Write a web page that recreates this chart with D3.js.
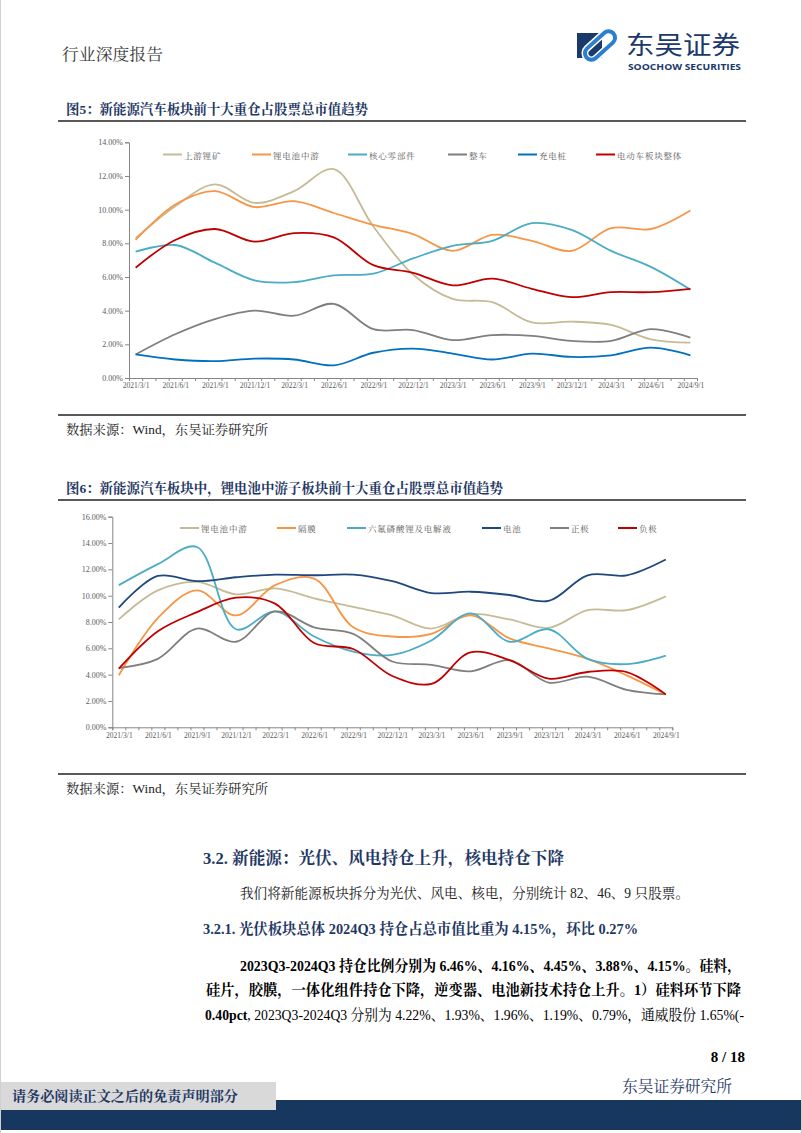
<!DOCTYPE html>
<html><head><meta charset="utf-8">
<script src="https://cdn.jsdelivr.net/npm/d3@7"></script>
<style>html,body{margin:0;padding:0;background:#fff;}svg{display:block;}</style>
</head><body>
<script>
// ---------- DATA ----------
const dateLabels = ["2021/3/1","2021/6/1","2021/9/1","2021/12/1","2022/3/1","2022/6/1","2022/9/1","2022/12/1","2023/3/1","2023/6/1","2023/9/1","2023/12/1","2024/3/1","2024/6/1","2024/9/1"];
const monthIndex = [0,3,6,9,12,15,18,21,24,27,30,33,36,39,42];

// Figure 5
const fig5Names = ["上游锂矿","锂电池中游","核心零部件","整车","充电桩","电动车板块整体"];
const upstreamLithium = [8.3,10.2,11.5,10.4,11.1,12.4,9.0,6.15,4.7,4.5,3.3,3.35,3.15,2.3,2.1];
const batteryMidstream = [8.2,10.3,11.1,10.15,10.5,9.8,9.1,8.55,7.55,8.5,8.15,7.55,8.9,8.85,9.95];
const coreParts = [7.5,7.9,6.85,5.8,5.7,6.1,6.2,7.1,7.85,8.15,9.2,8.8,7.55,6.6,5.25];
const vehicles = [1.4,2.6,3.5,4.0,3.7,4.4,2.9,2.85,2.25,2.55,2.5,2.2,2.2,2.9,2.4];
const chargingPiles = [1.4,1.1,1.0,1.15,1.1,0.75,1.5,1.75,1.45,1.1,1.45,1.25,1.35,1.8,1.35];
const evSectorTotal = [6.55,8.2,8.85,8.1,8.6,8.35,6.7,6.25,5.5,5.9,5.3,4.8,5.1,5.1,5.3];

// Figure 6
const fig6Names = ["锂电池中游","隔膜","六氟磷酸锂及电解液","电池","正极","负极"];
const batteryMid2 = [8.2,10.4,11.05,10.1,10.55,9.8,9.15,8.5,7.5,8.6,8.2,7.55,8.9,8.9,9.95];
const separator = [3.95,8.3,10.4,8.5,10.8,11.3,7.6,6.9,7.1,8.5,6.75,6.0,5.2,3.95,2.5];
const electrolyte = [10.8,12.4,13.7,7.45,8.8,6.9,5.75,5.5,6.6,8.65,6.5,7.45,5.2,4.8,5.45];
const batteries = [9.1,11.5,11.1,11.4,11.6,11.55,11.6,11.1,10.2,10.3,10.05,9.6,11.55,11.55,12.75];
const cathode = [4.5,5.2,7.5,6.5,8.8,7.6,7.1,5.0,4.75,4.25,5.1,3.4,3.85,2.85,2.5];
const anode = [4.45,7.3,8.75,9.85,9.4,6.4,5.95,3.9,3.3,5.7,5.1,3.7,4.2,4.2,2.5];

const fig5Ticks = [0,2,4,6,8,10,12,14];
const fig6Ticks = [0,2,4,6,8,10,12,14,16];

// ---------- STYLE ----------
const SERIF = "'Liberation Serif','Noto Serif CJK SC','Noto Sans CJK SC',serif";
const CJK = "'Noto Serif CJK SC','Noto Sans CJK SC',sans-serif";
const SANS = "'Noto Sans CJK SC','Noto Sans',sans-serif";
const NAVY = "#1f3864";

const svg = d3.select("body").append("svg").attr("width",802).attr("height",1133);

function txt(x,y,s,o={}){
  const t = svg.append("text").attr("x",x).attr("y",y).text(s)
    .attr("font-family",o.family||SERIF).attr("font-size",o.size||14)
    .attr("font-weight",o.weight||"normal").attr("fill",o.fill||"#000")
    .attr("text-anchor",o.anchor||"start").attr("dominant-baseline","central");
  if(o.len){t.attr("textLength",o.len).attr("lengthAdjust","spacingAndGlyphs");}
  if(o.ls){t.attr("letter-spacing",o.ls);}
  return t;
}

// page side borders
svg.append("line").attr("x1",0.5).attr("x2",0.5).attr("y1",0).attr("y2",1133).attr("stroke","#d0d0d0");
svg.append("line").attr("x1",801.5).attr("x2",801.5).attr("y1",0).attr("y2",1133).attr("stroke","#d0d0d0");

// ---------- HEADER ----------
txt(62,53,"行业深度报告",{family:CJK,size:16,fill:"#3a3a3a",len:101});
// logo
const lg = svg.append("g");
lg.append("rect").attr("x",577).attr("y",33).attr("width",25).attr("height",25).attr("fill","#1b3a6b");
lg.append("rect").attr("x",582).attr("y",39).attr("width",36).attr("height",13).attr("rx",6.5)
  .attr("transform","rotate(-42 600 45.5)").attr("fill","none").attr("stroke","#fff").attr("stroke-width",7);
lg.append("rect").attr("x",582).attr("y",39).attr("width",36).attr("height",13).attr("rx",6.5)
  .attr("transform","rotate(-42 600 45.5)").attr("fill","none").attr("stroke","#2a7fd0").attr("stroke-width",4);
txt(626,43,"东吴证券",{family:SANS,size:25,fill:"#1b3a6b",len:114});
txt(628,66,"SOOCHOW SECURITIES",{family:"'Open Sans','Noto Sans',sans-serif",size:8.5,weight:"bold",fill:"#1b3a6b",len:113});

// ---------- CHART ----------
function drawChart(cfg){
  const g = svg.append("g");
  const x = d3.scaleLinear().domain([-0.5,42.5]).range([cfg.x0,cfg.x1]);
  const y = d3.scaleLinear().domain([0,cfg.yMax]).range([cfg.yb,cfg.yt]);
  // y axis
  const ya = g.append("g").attr("transform",`translate(${cfg.x0},0)`)
    .call(d3.axisLeft(y).tickValues(cfg.ticks).tickSize(4).tickPadding(2).tickFormat(d=>d.toFixed(2)+"%"));
  ya.select(".domain").attr("stroke","#868686");
  ya.selectAll(".tick line").attr("stroke","#868686");
  ya.selectAll("text").attr("font-family",SERIF).attr("font-size",8).attr("fill","#595959");
  // x axis minor month ticks
  const monthBounds = d3.range(-0.5,43,1);
  const xa = g.append("g").attr("transform",`translate(0,${cfg.yb})`)
    .call(d3.axisBottom(x).tickValues(monthBounds).tickSize(3).tickFormat(""));
  xa.select(".domain").attr("stroke","#868686");
  xa.selectAll(".tick line").attr("stroke","#868686");
  const xl = g.append("g").attr("transform",`translate(0,${cfg.yb})`)
    .call(d3.axisBottom(x).tickValues(monthIndex).tickSize(0).tickPadding(5).tickFormat((d,i)=>dateLabels[i]));
  xl.select(".domain").remove();
  xl.selectAll("text").attr("font-family",SERIF).attr("font-size",7.5).attr("fill","#595959");
  // lines
  const line = d3.line().x((d,i)=>x(monthIndex[i])).y(d=>y(d)).curve(d3.curveCatmullRom.alpha(0.5));
  cfg.series.forEach(s=>{
    g.append("path").datum(s.values).attr("d",line).attr("fill","none")
      .attr("stroke",s.color).attr("stroke-width",1.8).attr("stroke-linejoin","round");
  });
  // legend
  cfg.series.forEach((s,i)=>{
    const lx = cfg.legendX[i];
    g.append("line").attr("x1",lx).attr("x2",lx+19).attr("y1",cfg.legendY).attr("y2",cfg.legendY)
      .attr("stroke",s.color).attr("stroke-width",2);
    g.append("text").attr("x",lx+21).attr("y",cfg.legendY).attr("dominant-baseline","central")
      .attr("font-family",CJK).attr("font-size",8.5).attr("letter-spacing",0.8).attr("fill","#595959").text(s.name);
  });
}

// Figure 5
txt(66,109,"图5：新能源汽车板块前十大重仓占股票总市值趋势",{family:SERIF,size:13.5,weight:"bold",fill:NAVY,len:302});
svg.append("line").attr("x1",58).attr("x2",746).attr("y1",121).attr("y2",121).attr("stroke","#222").attr("stroke-width",1.5);
const c5 = ["#c4bc96","#f79646","#4bacc6","#7f7f7f","#0070c0","#c00000"];
const v5 = [upstreamLithium,batteryMidstream,coreParts,vehicles,chargingPiles,evSectorTotal];
drawChart({x0:129,x1:697,yb:378,yt:142.3,yMax:14,ticks:fig5Ticks,legendY:154.5,
  legendX:[163,252,348,448,518,596],
  series:fig5Names.map((n,i)=>({name:n,color:c5[i],values:v5[i]}))});
svg.append("line").attr("x1",58).attr("x2",746).attr("y1",415).attr("y2",415).attr("stroke","#222").attr("stroke-width",1.5);
txt(66,429,"数据来源：Wind，东吴证券研究所",{family:SERIF,size:13,fill:"#222",len:202});

// Figure 6
txt(66,488,"图6：新能源汽车板块中，锂电池中游子板块前十大重仓占股票总市值趋势",{family:SERIF,size:13.5,weight:"bold",fill:NAVY,len:437});
svg.append("line").attr("x1",58).attr("x2",746).attr("y1",500).attr("y2",500).attr("stroke","#222").attr("stroke-width",1.5);
const c6 = ["#c4bc96","#f79646","#4bacc6","#1f497d","#7f7f7f","#c00000"];
const v6 = [batteryMid2,separator,electrolyte,batteries,cathode,anode];
drawChart({x0:112.3,x1:672.3,yb:727.3,yt:516.7,yMax:16,ticks:fig6Ticks,legendY:528,
  legendX:[180,277,347,482,550,618],
  series:fig6Names.map((n,i)=>({name:n,color:c6[i],values:v6[i]}))});
svg.append("line").attr("x1",58).attr("x2",746).attr("y1",774).attr("y2",774).attr("stroke","#222").attr("stroke-width",1.5);
txt(66,788,"数据来源：Wind，东吴证券研究所",{family:SERIF,size:13,fill:"#222",len:202});

// ---------- BODY TEXT ----------
txt(203,858,"3.2.  新能源：光伏、风电持仓上升，核电持仓下降",{size:16.5,weight:"bold",fill:NAVY,len:361});
txt(240,893,"我们将新能源板块拆分为光伏、风电、核电，分别统计 82、46、9 只股票。",{size:14,fill:"#222",len:449});
txt(203,929,"3.2.1.  光伏板块总体 2024Q3 持仓占总市值比重为 4.15%，环比 0.27%",{size:15,weight:"bold",fill:NAVY,len:435});
txt(240,966,"2023Q3-2024Q3 持仓比例分别为 6.46%、4.16%、4.45%、3.88%、4.15%。硅料，",{size:15,weight:"bold",fill:"#000",len:501});
txt(206,990,"硅片，胶膜，一体化组件持仓下降，逆变器、电池新技术持仓上升。1）硅料环节下降",{size:15,weight:"bold",fill:"#000",len:535});
const l3 = svg.append("text").attr("x",205).attr("y",1015).attr("dominant-baseline","central")
  .attr("font-family",SERIF).attr("font-size",15).attr("fill","#000")
  .attr("textLength",539).attr("lengthAdjust","spacingAndGlyphs");
l3.append("tspan").attr("font-weight","bold").text("0.40pct");
l3.append("tspan").text(", 2023Q3-2024Q3 分别为 4.22%、1.93%、1.96%、1.19%、0.79%，通威股份 1.65%(-");

// ---------- FOOTER ----------
txt(745,1057,"8  /  18",{size:15,weight:"bold",fill:"#000",anchor:"end"});
txt(622,1085,"东吴证券研究所",{family:CJK,size:16,fill:NAVY,len:110});
svg.append("rect").attr("x",1).attr("y",1100).attr("width",800).attr("height",30).attr("fill","#17375e");
svg.append("rect").attr("x",1).attr("y",1082).attr("width",275).attr("height",28).attr("fill","#d9d9d9");
txt(12,1095,"请务必阅读正文之后的免责声明部分",{family:CJK,size:14,weight:"bold",fill:NAVY,len:226});
</script>
</body></html>
